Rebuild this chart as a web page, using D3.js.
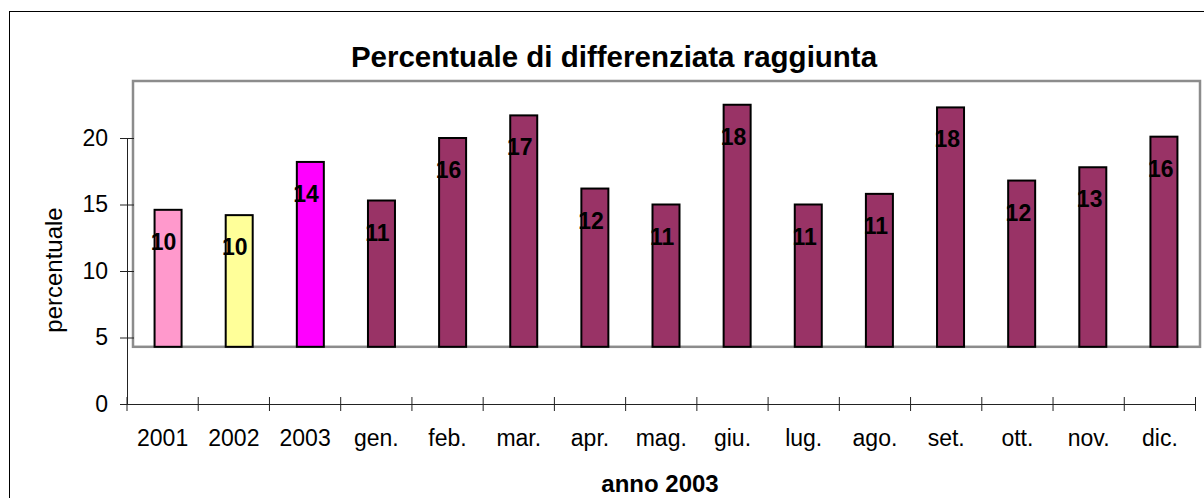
<!DOCTYPE html>
<html>
<head>
<meta charset="utf-8">
<script src="https://cdn.jsdelivr.net/npm/d3@7"></script>
<style>
  html, body { margin: 0; padding: 0; background: #fff; }
  svg { display: block; font-family: "Liberation Sans", Arial, sans-serif; }
</style>
</head>
<body>
<svg id="chart" width="1204" height="498"></svg>
<script>
const categories = ["2001","2002","2003","gen.","feb.","mar.","apr.","mag.","giu.","lug.","ago.","set.","ott.","nov.","dic."];
const values = [14.6, 14.2, 18.2, 15.3, 20.0, 21.7, 16.2, 15.0, 22.5, 15.0, 15.8, 22.3, 16.8, 17.8, 20.1];
const labels = [10, 10, 14, 11, 16, 17, 12, 11, 18, 11, 11, 18, 12, 13, 16];
const colors = ["#FF99CC","#FFFF99","#FF00FF","#993366","#993366","#993366","#993366","#993366","#993366","#993366","#993366","#993366","#993366","#993366","#993366"];
const yTicks = [0, 5, 10, 15, 20];
const baseValue = 4.3;
const title = "Percentuale di differenziata raggiunta";
const xTitle = "anno 2003";
const yTitle = "percentuale";

const svg = d3.select("#chart");

// outer frame
svg.append("rect").attr("x", 9.5).attr("y", 11.5).attr("width", 1220).attr("height", 520)
  .attr("fill", "none").attr("stroke", "#000").attr("stroke-width", 1);

const axisX0 = 127, axisX1 = 1195.5;
const y = d3.scaleLinear().domain([0, 20]).range([404, 138]);
const xAxisScale = d3.scaleBand().domain(categories).range([axisX0, axisX1]);
const xBar = d3.scaleBand().domain(categories).range([132.5, 1199.5]).paddingInner(0.6).paddingOuter(0.3);

// plot area (gray)
svg.append("rect").attr("x", 133).attr("y", 81).attr("width", 1067).attr("height", y(baseValue) - 81)
  .attr("fill", "#fff").attr("stroke", "#8c8c8c").attr("stroke-width", 2.5);

// bars
const bw = 27;
svg.append("g").selectAll("rect").data(values).join("rect")
  .attr("x", (d, i) => xBar(categories[i]) + xBar.bandwidth() / 2 - bw / 2)
  .attr("y", d => y(d))
  .attr("width", bw)
  .attr("height", d => y(baseValue) - y(d))
  .attr("fill", (d, i) => colors[i])
  .attr("stroke", "#000").attr("stroke-width", 2);

// data labels
svg.append("g").selectAll("text").data(values).join("text")
  .attr("x", (d, i) => xAxisScale(categories[i]) + xAxisScale.bandwidth() / 2 + 1)
  .attr("y", d => y(d) + 40)
  .attr("text-anchor", "middle")
  .attr("font-weight", "bold").attr("font-size", 23).attr("fill", "#000")
  .text((d, i) => labels[i]);

// y axis
const yAxis = d3.axisLeft(y).tickValues(yTicks).tickSize(0).tickPadding(0);
const gy = svg.append("g").attr("transform", `translate(${axisX0},0)`).call(yAxis);
gy.select(".domain").attr("stroke", "#222");
gy.selectAll(".tick line").remove();
gy.selectAll(".tick").append("line").attr("x1", -7).attr("x2", 7).attr("stroke", "#222");
gy.selectAll(".tick text").attr("x", -19).attr("font-size", 23).attr("fill", "#000")
  .attr("font-family", "Liberation Sans, Arial, sans-serif");

// x axis
const xAxis = d3.axisBottom(xAxisScale).tickSize(0).tickPadding(0);
const gx = svg.append("g").attr("transform", `translate(0,${y(0)})`).call(xAxis);
gx.select(".domain").attr("stroke", "#222");
gx.selectAll(".tick text").attr("y", 42).attr("dy", 0).attr("font-size", 23).attr("fill", "#000")
  .attr("font-family", "Liberation Sans, Arial, sans-serif");
const bounds = categories.map(c => xAxisScale(c)).concat([axisX1]);
gx.append("g").selectAll("line").data(bounds).join("line")
  .attr("x1", d => d).attr("x2", d => d).attr("y1", -7).attr("y2", 7).attr("stroke", "#222");

// titles
svg.append("text").attr("x", 614).attr("y", 67).attr("text-anchor", "middle")
  .attr("font-weight", "bold").attr("font-size", 29.5).text(title);
svg.append("text").attr("x", 660).attr("y", 492).attr("text-anchor", "middle")
  .attr("font-weight", "bold").attr("font-size", 24).text(xTitle);
svg.append("text").attr("transform", "translate(62,270) rotate(-90)").attr("text-anchor", "middle")
  .attr("font-size", 24).text(yTitle);
</script>
</body>
</html>
